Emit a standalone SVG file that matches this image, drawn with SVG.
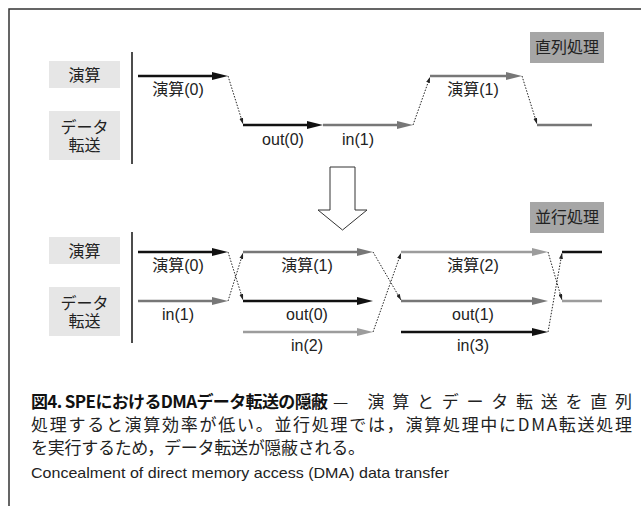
<svg xmlns="http://www.w3.org/2000/svg" width="641" height="506" viewBox="0 0 641 506">
<style>
  text { font-family: "Liberation Sans", "Noto Sans CJK JP", sans-serif; fill: #222; }
  .lbl { font-size: 16px; text-anchor: middle; }
  .row { fill: #e6e6e6; }
  .mode { fill: #a6a6a6; }
  .k { stroke: #111; stroke-width: 2.5; fill: none; }
  .g { stroke: #777; stroke-width: 2.5; fill: none; }
  .lg { stroke: #9c9c9c; stroke-width: 2.5; fill: none; }
  .dot { stroke: #222; stroke-width: 1; stroke-dasharray: 1.5 1.5; fill: none; }
  .cap { font-family: "Noto Sans CJK JP", sans-serif; font-size: 17px; fill: #222; }
  .capb { font-family: "Noto Sans CJK JP", sans-serif; font-size: 17px; font-weight: bold; fill: #111; }
</style>
<defs>
  <marker id="ak" markerUnits="userSpaceOnUse" markerWidth="16" markerHeight="8" refX="2" refY="4" orient="auto"><path d="M0,0 L16,4 L0,8 z" fill="#111"/></marker>
  <marker id="ag" markerUnits="userSpaceOnUse" markerWidth="16" markerHeight="8" refX="2" refY="4" orient="auto"><path d="M0,0 L16,4 L0,8 z" fill="#777"/></marker>
  <marker id="alg" markerUnits="userSpaceOnUse" markerWidth="16" markerHeight="8" refX="2" refY="4" orient="auto"><path d="M0,0 L16,4 L0,8 z" fill="#9c9c9c"/></marker>
  <marker id="ad" markerUnits="userSpaceOnUse" markerWidth="6" markerHeight="4" refX="6" refY="2" orient="auto"><path d="M0,0 L6,2 L0,4 z" fill="#222"/></marker>
</defs>

<!-- frame -->
<path d="M9,506 L9,9 L641,9" fill="none" stroke="#333" stroke-width="1.5"/>

<!-- serial section -->
<g id="mode-serial"><rect class="mode" x="530" y="32" width="74" height="31"/><text class="lbl" x="567" y="53">直列処理</text></g>
<g id="row-calc-1"><rect class="row" x="49" y="61" width="71" height="27"/><text class="lbl" x="84.5" y="81">演算</text></g>
<g id="row-xfer-1"><rect class="row" x="49" y="111" width="71" height="49"/><text class="lbl" x="84.5" y="133">データ</text><text class="lbl" x="84.5" y="151">転送</text></g>
<g id="axis-1"><line x1="132" y1="52" x2="132" y2="164" stroke="#111" stroke-width="1.5"/></g>

<g id="connectors-serial">
  <line class="k" x1="138" y1="76" x2="214" y2="76" marker-end="url(#ak)"/>
  <line class="dot" x1="228" y1="76" x2="243" y2="124" marker-end="url(#ad)"/>
  <line class="k" x1="243" y1="125" x2="309" y2="125" marker-end="url(#ak)"/>
  <line class="g" x1="323" y1="125" x2="399" y2="125" marker-end="url(#ag)"/>
  <line class="dot" x1="413" y1="125" x2="430" y2="77" marker-end="url(#ad)"/>
  <line class="g" x1="430" y1="76" x2="508" y2="76" marker-end="url(#ag)"/>
  <line class="dot" x1="522" y1="76" x2="537" y2="124" marker-end="url(#ad)"/>
  <line class="g" x1="537" y1="125" x2="592" y2="125"/>
</g>
<g id="labels-serial">
  <text class="lbl" x="178" y="95">演算(0)</text>
  <text class="lbl" x="283" y="145">out(0)</text>
  <text class="lbl" x="358" y="145">in(1)</text>
  <text class="lbl" x="473" y="95">演算(1)</text>
</g>

<!-- big arrow -->
<g id="transition-arrow"><polygon points="330,167 355,167 355,210 367,210 342.5,230 318,210 330,210" fill="#fff" stroke="#333" stroke-width="1"/></g>

<!-- parallel section -->
<g id="mode-parallel"><rect class="mode" x="530" y="202" width="74" height="31"/><text class="lbl" x="567" y="223">並行処理</text></g>
<g id="row-calc-2"><rect class="row" x="49" y="237" width="71" height="27"/><text class="lbl" x="84.5" y="256.5">演算</text></g>
<g id="row-xfer-2"><rect class="row" x="49" y="287" width="71" height="49"/><text class="lbl" x="84.5" y="309">データ</text><text class="lbl" x="84.5" y="327">転送</text></g>
<g id="axis-2"><line x1="132" y1="232" x2="132" y2="343" stroke="#111" stroke-width="1.5"/></g>

<g id="connectors-parallel">
  <line class="k" x1="138" y1="252" x2="214" y2="252" marker-end="url(#ak)"/>
  <line class="g" x1="138" y1="301" x2="214" y2="301" marker-end="url(#ag)"/>
  <line class="dot" x1="228" y1="252" x2="243" y2="300" marker-end="url(#ad)"/>
  <line class="dot" x1="228" y1="301" x2="243" y2="253" marker-end="url(#ad)"/>
  <line class="g" x1="243" y1="252" x2="359" y2="252" marker-end="url(#ag)"/>
  <line class="k" x1="243" y1="301" x2="359" y2="301" marker-end="url(#ak)"/>
  <line class="lg" x1="243" y1="332" x2="359" y2="332" marker-end="url(#alg)"/>
  <line class="dot" x1="373" y1="252" x2="401" y2="300" marker-end="url(#ad)"/>
  <line class="dot" x1="373" y1="332" x2="401" y2="253" marker-end="url(#ad)"/>
  <line class="lg" x1="401" y1="252" x2="534" y2="252" marker-end="url(#alg)"/>
  <line class="g" x1="401" y1="301" x2="534" y2="301" marker-end="url(#ag)"/>
  <line class="k" x1="401" y1="332" x2="534" y2="332" marker-end="url(#ak)"/>
  <line class="dot" x1="548" y1="252" x2="562" y2="300" marker-end="url(#ad)"/>
  <line class="dot" x1="548" y1="332" x2="562" y2="253" marker-end="url(#ad)"/>
  <line class="k" x1="562" y1="252" x2="602" y2="252"/>
  <line class="lg" x1="562" y1="301" x2="602" y2="301"/>
</g>
<g id="labels-parallel">
  <text class="lbl" x="178" y="271">演算(0)</text>
  <text class="lbl" x="178" y="320">in(1)</text>
  <text class="lbl" x="307" y="271">演算(1)</text>
  <text class="lbl" x="307" y="320">out(0)</text>
  <text class="lbl" x="307" y="351">in(2)</text>
  <text class="lbl" x="473" y="271">演算(2)</text>
  <text class="lbl" x="473" y="320">out(1)</text>
  <text class="lbl" x="473" y="351">in(3)</text>
</g>

<!-- caption -->
<g id="caption">
  <text class="capb" x="31" y="408" textLength="297" lengthAdjust="spacing">図4. SPEにおけるDMAデータ転送の隠蔽</text>
  <text class="cap" x="333" y="408" textLength="299" lengthAdjust="spacing">— 演算とデータ転送を直列</text>
  <text class="cap" x="31" y="431" textLength="601" lengthAdjust="spacing">処理すると演算効率が低い。並行処理では，演算処理中にDMA転送処理</text>
  <text class="cap" x="31" y="454" textLength="334" lengthAdjust="spacing">を実行するため，データ転送が隠蔽される。</text>
  <text x="31" y="478" font-size="15" textLength="418" lengthAdjust="spacingAndGlyphs">Concealment of direct memory access (DMA) data transfer</text>
</g>
</svg>
